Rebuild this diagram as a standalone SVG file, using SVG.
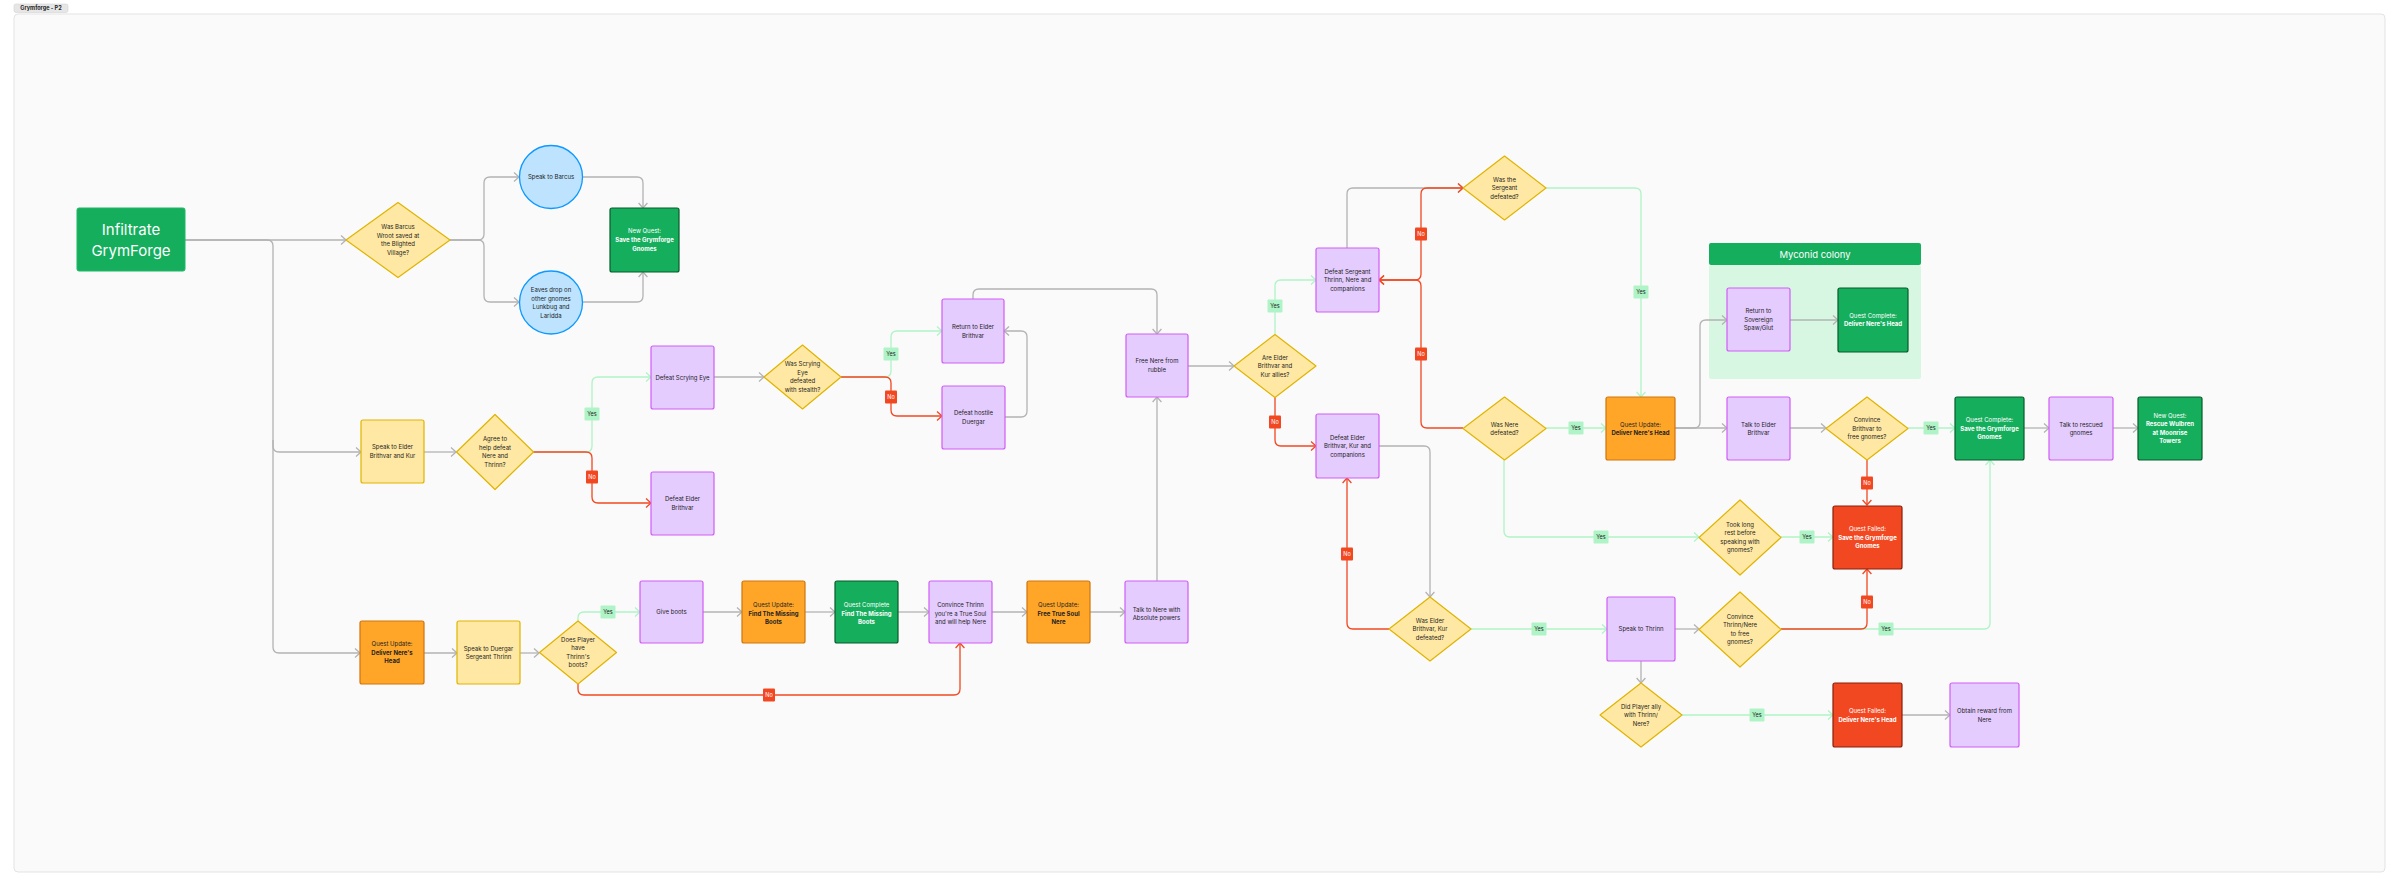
<svg xmlns="http://www.w3.org/2000/svg" width="2400" height="887" viewBox="0 0 2400 887">
<defs>
<style>
text{font-family:Inter,"Liberation Sans",sans-serif;font-size:6px;fill:#1e1e1e;text-anchor:middle}
.w{fill:#ffffff}
.bd{font-weight:700}
.pur{fill:#e4ccff;stroke:#d15cf6;stroke-width:1.2}
.yel{fill:#ffe8a3;stroke:#e0b400;stroke-width:1.2}
.org{fill:#ffa629;stroke:#d0740d;stroke-width:1.2}
.grn{fill:#14ae5c;stroke:#085a2c;stroke-width:1.2}
.red{fill:#f24822;stroke:#8a1e08;stroke-width:1.2}
.blu{fill:#bde3ff;stroke:#0d99ff;stroke-width:1.3}
.dia{fill:#ffe8a3;stroke:#e0b400;stroke-width:1.2;stroke-linejoin:round}
.cg{fill:none;stroke:#b3b3b3;stroke-width:1.3;marker-end:url(#ag)}
.cy{fill:none;stroke:#aff4c6;stroke-width:1.3;marker-end:url(#ay)}
.cr{fill:none;stroke:#f24822;stroke-width:1.3;marker-end:url(#ar)}
.ly{fill:#aff4c6}
.lr{fill:#f24822}
.lt{font-size:5.5px}
</style>
<marker id="ag" viewBox="0 0 7 10" refX="6" refY="5" markerWidth="7" markerHeight="10" markerUnits="userSpaceOnUse" orient="auto-start-reverse"><path d="M1,0.6 L6,5 L1,9.4" fill="none" stroke="#b3b3b3" stroke-width="1.3"/></marker>
<marker id="ay" viewBox="0 0 7 10" refX="6" refY="5" markerWidth="7" markerHeight="10" markerUnits="userSpaceOnUse" orient="auto-start-reverse"><path d="M1,0.6 L6,5 L1,9.4" fill="none" stroke="#aff4c6" stroke-width="1.3"/></marker>
<marker id="ar" viewBox="0 0 7 10" refX="6" refY="5" markerWidth="7" markerHeight="10" markerUnits="userSpaceOnUse" orient="auto-start-reverse"><path d="M1,0.6 L6,5 L1,9.4" fill="none" stroke="#f24822" stroke-width="1.3"/></marker>
</defs>

<g id="frame">
<rect x="14" y="4" width="54" height="8.5" rx="2" fill="#e6e6e6" stroke="#d4d4d4" stroke-width="0.6"/>
<text x="41" y="10.3" class="bd" style="font-size:5.5px">Grymforge - P2</text>
<rect x="14" y="14" width="2371" height="858" rx="4" fill="#fafafa" stroke="#e3e3e3" stroke-width="1"/>
</g>

<g id="myconid-colony">
<rect x="1709" y="265" width="212" height="114" rx="2" fill="#d8f7e2"/>
<rect x="1709" y="243" width="212" height="22" rx="2" fill="#14ae5c"/>
<text x="1815" y="257.5" class="w" style="font-size:9.5px">Myconid colony</text>
</g>

<g id="connectors">
<path class="cg" d="M185,240 H346"/>
<path class="cg" d="M185,240 H267 Q273,240 273,246 V446 Q273,452 279,452 H361"/>
<path class="cg" d="M273,440 V647 Q273,653 279,653 H360"/>
<path class="cg" d="M450,240 H478 Q484,240 484,234 V183 Q484,177 490,177 H519"/>
<path class="cg" d="M450,240 H478 Q484,240 484,246 V296 Q484,302 490,302 H519"/>
<path class="cg" d="M583,177 H637 Q643,177 643,183 V208"/>
<path class="cg" d="M583,302 H637 Q643,302 643,296 V272"/>
<path class="cg" d="M424,452 H456"/>
<path class="cy" d="M533,452 H586 Q592,452 592,446 V383 Q592,377 598,377 H651"/>
<path class="cr" d="M533,452 H586 Q592,452 592,458 V497 Q592,503 598,503 H651"/>
<path class="cg" d="M714,377 H764"/>
<path class="cy" d="M841,377 H885 Q891,377 891,371 V337 Q891,331 897,331 H942"/>
<path class="cr" d="M841,377 H885 Q891,377 891,383 V410 Q891,416 897,416 H942"/>
<path class="cg" d="M1005,417 H1021 Q1027,417 1027,411 V337 Q1027,331 1021,331 H1004"/>
<path class="cg" d="M973,299 V295 Q973,289 979,289 H1151 Q1157,289 1157,295 V334"/>
<path class="cg" d="M1188,366 H1234"/>
<path class="cy" d="M1275,334 V286 Q1275,280 1281,280 H1316"/>
<path class="cr" d="M1275,397 V440 Q1275,446 1281,446 H1316"/>
<path class="cg" d="M1347,248 V194 Q1347,188 1353,188 H1463"/>
<path class="cr" d="M1463,428 H1427 Q1421,428 1421,422 V286 Q1421,280 1415,280 H1379"/>
<path class="cr" style="marker-start:url(#ar)" d="M1463,188 H1427 Q1421,188 1421,194 V274 Q1421,280 1415,280 H1379"/>
<path class="cy" d="M1546,188 H1635 Q1641,188 1641,194 V397"/>
<path class="cy" d="M1546,428 H1606"/>
<path class="cg" d="M1675,428 H1727"/>
<path class="cg" d="M1675,428 H1694 Q1700,428 1700,422 V326 Q1700,320 1706,320 H1727"/>
<path class="cg" d="M1790,320 H1838"/>
<path class="cg" d="M1790,428 H1826"/>
<path class="cy" d="M1908,428 H1955"/>
<path class="cg" d="M2024,428 H2049"/>
<path class="cg" d="M2113,428 H2138"/>
<path class="cr" d="M1867,460 V505"/>
<path class="cg" d="M1379,446 H1424 Q1430,446 1430,452 V597"/>
<path class="cy" d="M1471,629 H1607"/>
<path class="cr" d="M1389,629 H1353 Q1347,629 1347,623 V478"/>
<path class="cg" d="M1675,629 H1699"/>
<path class="cy" d="M1781,629 H1984 Q1990,629 1990,623 V460"/>
<path class="cr" d="M1781,629 H1861 Q1867,629 1867,623 V569"/>
<path class="cy" d="M1504,460 V531 Q1504,537 1510,537 H1699"/>
<path class="cy" d="M1781,537 H1833"/>
<path class="cg" d="M1641,661 V683"/>
<path class="cy" d="M1682,715 H1833"/>
<path class="cg" d="M1902,715 H1950"/>
<path class="cg" d="M424,653 H457"/>
<path class="cg" d="M520,653 H539"/>
<path class="cy" d="M578,621 V618 Q578,612 584,612 H640"/>
<path class="cr" d="M578,684 V689 Q578,695 584,695 H954 Q960,695 960,689 V643"/>
<path class="cg" d="M703,612 H742"/>
<path class="cg" d="M805,612 H835"/>
<path class="cg" d="M898,612 H929"/>
<path class="cg" d="M992,612 H1027"/>
<path class="cg" d="M1090,612 H1125"/>
<path class="cg" d="M1157,581 V397"/>
<g id="labels">
<rect class="ly" x="584.5" y="407.5" width="15" height="13" rx="1"/><text class="lt" x="592" y="416">Yes</text>
<rect class="lr" x="586" y="470.5" width="12" height="13" rx="1"/><text class="lt w" x="592" y="479">No</text>
<rect class="ly" x="883.5" y="347.5" width="15" height="13" rx="1"/><text class="lt" x="891" y="356">Yes</text>
<rect class="lr" x="885" y="390.5" width="12" height="13" rx="1"/><text class="lt w" x="891" y="399">No</text>
<rect class="ly" x="1267.5" y="299.5" width="15" height="13" rx="1"/><text class="lt" x="1275" y="308">Yes</text>
<rect class="lr" x="1269" y="415.5" width="12" height="13" rx="1"/><text class="lt w" x="1275" y="424">No</text>
<rect class="lr" x="1415" y="227.5" width="12" height="13" rx="1"/><text class="lt w" x="1421" y="236">No</text>
<rect class="lr" x="1415" y="347.5" width="12" height="13" rx="1"/><text class="lt w" x="1421" y="356">No</text>
<rect class="ly" x="1633.5" y="285.5" width="15" height="13" rx="1"/><text class="lt" x="1641" y="294">Yes</text>
<rect class="ly" x="1568.5" y="421.5" width="15" height="13" rx="1"/><text class="lt" x="1576" y="430">Yes</text>
<rect class="ly" x="1923.5" y="421.5" width="15" height="13" rx="1"/><text class="lt" x="1931" y="430">Yes</text>
<rect class="lr" x="1861" y="476.5" width="12" height="13" rx="1"/><text class="lt w" x="1867" y="485">No</text>
<rect class="ly" x="1531.5" y="622.5" width="15" height="13" rx="1"/><text class="lt" x="1539" y="631">Yes</text>
<rect class="lr" x="1341" y="547.5" width="12" height="13" rx="1"/><text class="lt w" x="1347" y="556">No</text>
<rect class="ly" x="1878.5" y="622.5" width="15" height="13" rx="1"/><text class="lt" x="1886" y="631">Yes</text>
<rect class="lr" x="1861" y="595.5" width="12" height="13" rx="1"/><text class="lt w" x="1867" y="604">No</text>
<rect class="ly" x="1593.5" y="530.5" width="15" height="13" rx="1"/><text class="lt" x="1601" y="539">Yes</text>
<rect class="ly" x="1799.5" y="530.5" width="15" height="13" rx="1"/><text class="lt" x="1807" y="539">Yes</text>
<rect class="ly" x="1749.5" y="708.5" width="15" height="13" rx="1"/><text class="lt" x="1757" y="717">Yes</text>
<rect class="ly" x="600.5" y="605.5" width="15" height="13" rx="1"/><text class="lt" x="608" y="614">Yes</text>
<rect class="lr" x="763" y="688.5" width="12" height="13" rx="1"/><text class="lt w" x="769" y="697">No</text>
</g>
</g>

<g id="infiltrate">
<rect x="77" y="208" width="108" height="63" rx="2" fill="#14ae5c" stroke="#1fb866" stroke-width="1"/>
<text class="w" style="font-size:15px" x="131" y="235">Infiltrate</text>
<text class="w" style="font-size:15px" x="131" y="256">GrymForge</text>
</g>
<g id="q-barcus">
<polygon class="dia" points="398,202.5 450,240 398,277.5 346,240"/>
<text x="398" y="229">Was Barcus</text><text x="398" y="238">Wroot saved at</text><text x="398" y="246">the Blighted</text><text x="398" y="255">Village?</text>
</g>
<g id="speak-barcus">
<circle class="blu" cx="551" cy="177" r="31.5"/>
<text x="551" y="179">Speak to Barcus</text>
</g>
<g id="eaves-drop">
<circle class="blu" cx="551" cy="302.5" r="31.5"/>
<text x="551" y="292">Eaves drop on</text><text x="551" y="300.5">other gnomes</text><text x="551" y="309">Lunkbug and</text><text x="551" y="317.5">Laridda</text>
</g>
<g id="new-quest-save">
<rect class="grn" x="610" y="208" width="69" height="64" rx="2"/>
<text class="w" x="644.5" y="233">New Quest:</text><text class="w bd" x="644.5" y="242">Save the Grymforge</text><text class="w bd" x="644.5" y="250.5">Gnomes</text>
</g>
<g id="speak-elder">
<rect class="yel" x="361" y="420" width="63" height="63" rx="2"/>
<text x="392.5" y="449">Speak to Elder</text><text x="392.5" y="458">Brithvar and Kur</text>
</g>
<g id="q-agree">
<polygon class="dia" points="495,414.5 533.5,452 495,489.5 456.5,452"/>
<text x="495" y="441">Agree to</text><text x="495" y="450">help defeat</text><text x="495" y="458">Nere and</text><text x="495" y="467">Thrinn?</text>
</g>
<g id="defeat-scrying">
<rect class="pur" x="651" y="346" width="63" height="63" rx="2"/>
<text x="682.5" y="379.5">Defeat Scrying Eye</text>
</g>
<g id="defeat-elder-brithvar">
<rect class="pur" x="651" y="472" width="63" height="63" rx="2"/>
<text x="682.5" y="501">Defeat Elder</text><text x="682.5" y="510">Brithvar</text>
</g>
<g id="q-scrying">
<polygon class="dia" points="802.5,345 841,377 802.5,409 764,377"/>
<text x="802.5" y="366">Was Scrying</text><text x="802.5" y="375">Eye</text><text x="802.5" y="383">defeated</text><text x="802.5" y="392">with stealth?</text>
</g>
<g id="return-elder">
<rect class="pur" x="942" y="299" width="62" height="64" rx="2"/>
<text x="973" y="329">Return to Elder</text><text x="973" y="337.5">Brithvar</text>
</g>
<g id="defeat-duergar">
<rect class="pur" x="942" y="386" width="63" height="63" rx="2"/>
<text x="973.5" y="415">Defeat hostile</text><text x="973.5" y="424">Duergar</text>
</g>
<g id="free-nere">
<rect class="pur" x="1126" y="334" width="62" height="63" rx="2"/>
<text x="1157" y="363">Free Nere from</text><text x="1157" y="372">rubble</text>
</g>
<g id="q-allies">
<polygon class="dia" points="1275,334.5 1316,366 1275,397.5 1234,366"/>
<text x="1275" y="359.5">Are Elder</text><text x="1275" y="368">Brithvar and</text><text x="1275" y="376.5">Kur allies?</text>
</g>
<g id="defeat-sergeant">
<rect class="pur" x="1316" y="248" width="63" height="64" rx="2"/>
<text x="1347.5" y="273.5">Defeat Sergeant</text><text x="1347.5" y="282">Thrinn, Nere and</text><text x="1347.5" y="290.5">companions</text>
</g>
<g id="defeat-elder-kur">
<rect class="pur" x="1316" y="414" width="63" height="64" rx="2"/>
<text x="1347.5" y="439.5">Defeat Elder</text><text x="1347.5" y="448">Brithvar, Kur and</text><text x="1347.5" y="456.5">companions</text>
</g>
<g id="q-sergeant">
<polygon class="dia" points="1504.5,156 1546,188 1504.5,220 1463,188"/>
<text x="1504.5" y="181.5">Was the</text><text x="1504.5" y="190">Sergeant</text><text x="1504.5" y="198.5">defeated?</text>
</g>
<g id="q-nere">
<polygon class="dia" points="1504.5,397 1546,428.5 1504.5,460 1463,428.5"/>
<text x="1504.5" y="426.5">Was Nere</text><text x="1504.5" y="435">defeated?</text>
</g>
<g id="qu-deliver">
<rect class="org" x="1606" y="397" width="69" height="63" rx="2"/>
<text x="1640.5" y="426.5">Quest Update:</text><text class="bd" x="1640.5" y="435">Deliver Nere's Head</text>
</g>
<g id="return-sovereign">
<rect class="pur" x="1727" y="288" width="63" height="63" rx="2"/>
<text x="1758.5" y="313">Return to</text><text x="1758.5" y="321.5">Sovereign</text><text x="1758.5" y="330">Spaw/Glut</text>
</g>
<g id="qc-deliver">
<rect class="grn" x="1838" y="288" width="70" height="64" rx="2"/>
<text class="w" x="1873" y="317.5">Quest Complete:</text><text class="w bd" x="1873" y="326">Deliver Nere's Head</text>
</g>
<g id="talk-elder">
<rect class="pur" x="1727" y="397" width="63" height="63" rx="2"/>
<text x="1758.5" y="426.5">Talk to Elder</text><text x="1758.5" y="435">Brithvar</text>
</g>
<g id="q-convince-brithvar">
<polygon class="dia" points="1867,397 1908,428.5 1867,460 1826,428.5"/>
<text x="1867" y="422">Convince</text><text x="1867" y="430.5">Brithvar to</text><text x="1867" y="439">free gnomes?</text>
</g>
<g id="qc-save">
<rect class="grn" x="1955" y="397" width="69" height="63" rx="2"/>
<text class="w" x="1989.5" y="422">Quest Complete:</text><text class="w bd" x="1989.5" y="430.5">Save the Grymforge</text><text class="w bd" x="1989.5" y="439">Gnomes</text>
</g>
<g id="talk-rescued">
<rect class="pur" x="2049" y="397" width="64" height="63" rx="2"/>
<text x="2081" y="426.5">Talk to rescued</text><text x="2081" y="435">gnomes</text>
</g>
<g id="nq-rescue">
<rect class="grn" x="2138" y="397" width="64" height="63" rx="2"/>
<text class="w" x="2170" y="417.5">New Quest:</text><text class="w bd" x="2170" y="426">Rescue Wulbren</text><text class="w bd" x="2170" y="434.5">at Moonrise</text><text class="w bd" x="2170" y="443">Towers</text>
</g>
<g id="q-elder-kur-defeated">
<polygon class="dia" points="1430,597 1471,629 1430,661 1389,629"/>
<text x="1430" y="622.5">Was Elder</text><text x="1430" y="631">Brithvar, Kur</text><text x="1430" y="639.5">defeated?</text>
</g>
<g id="speak-thrinn">
<rect class="pur" x="1607" y="597" width="68" height="64" rx="2"/>
<text x="1641" y="631">Speak to Thrinn</text>
</g>
<g id="q-convince-thrinn">
<polygon class="dia" points="1740,592 1781,629.5 1740,667 1699,629.5"/>
<text x="1740" y="618.5">Convince</text><text x="1740" y="627">Thrinn/Nere</text><text x="1740" y="635.5">to free</text><text x="1740" y="644">gnomes?</text>
</g>
<g id="q-long-rest">
<polygon class="dia" points="1740,500 1781,537.5 1740,575 1699,537.5"/>
<text x="1740" y="526.5">Took long</text><text x="1740" y="535">rest before</text><text x="1740" y="543.5">speaking with</text><text x="1740" y="552">gnomes?</text>
</g>
<g id="qf-save">
<rect class="red" x="1833" y="506" width="69" height="63" rx="2"/>
<text class="w" x="1867.5" y="531">Quest Failed:</text><text class="w bd" x="1867.5" y="539.5">Save the Grymforge</text><text class="w bd" x="1867.5" y="548">Gnomes</text>
</g>
<g id="q-ally">
<polygon class="dia" points="1641,683 1682,715 1641,747 1600,715"/>
<text x="1641" y="708.5">Did Player ally</text><text x="1641" y="717">with Thrinn/</text><text x="1641" y="725.5">Nere?</text>
</g>
<g id="qf-deliver">
<rect class="red" x="1833" y="683" width="69" height="64" rx="2"/>
<text class="w" x="1867.5" y="713">Quest Failed:</text><text class="w bd" x="1867.5" y="721.5">Deliver Nere's Head</text>
</g>
<g id="obtain-reward">
<rect class="pur" x="1950" y="683" width="69" height="64" rx="2"/>
<text x="1984.5" y="713">Obtain reward from</text><text x="1984.5" y="721.5">Nere</text>
</g>
<g id="qu-deliver-left">
<rect class="org" x="360" y="621" width="64" height="63" rx="2"/>
<text x="392" y="646">Quest Update:</text><text class="bd" x="392" y="654.5">Deliver Nere's</text><text class="bd" x="392" y="663">Head</text>
</g>
<g id="speak-duergar">
<rect class="yel" x="457" y="621" width="63" height="63" rx="2"/>
<text x="488.5" y="650.5">Speak to Duergar</text><text x="488.5" y="659">Sergeant Thrinn</text>
</g>
<g id="q-boots">
<polygon class="dia" points="578,621 616.5,652.5 578,684 539.5,652.5"/>
<text x="578" y="641.5">Does Player</text><text x="578" y="650">have</text><text x="578" y="658.5">Thrinn's</text><text x="578" y="667">boots?</text>
</g>
<g id="give-boots">
<rect class="pur" x="640" y="581" width="63" height="62" rx="2"/>
<text x="671.5" y="614">Give boots</text>
</g>
<g id="qu-find-boots">
<rect class="org" x="742" y="581" width="63" height="62" rx="2"/>
<text x="773.5" y="607">Quest Update:</text><text class="bd" x="773.5" y="615.5">Find The Missing</text><text class="bd" x="773.5" y="624">Boots</text>
</g>
<g id="qc-boots">
<rect class="grn" x="835" y="581" width="63" height="62" rx="2"/>
<text class="w" x="866.5" y="607">Quest Complete</text><text class="w bd" x="866.5" y="615.5">Find The Missing</text><text class="w bd" x="866.5" y="624">Boots</text>
</g>
<g id="convince-true-soul">
<rect class="pur" x="929" y="581" width="63" height="62" rx="2"/>
<text x="960.5" y="607">Convince Thrinn</text><text x="960.5" y="615.5">you're a True Soul</text><text x="960.5" y="624">and will help Nere</text>
</g>
<g id="qu-free-nere">
<rect class="org" x="1027" y="581" width="63" height="62" rx="2"/>
<text x="1058.5" y="607">Quest Update:</text><text class="bd" x="1058.5" y="615.5">Free True Soul</text><text class="bd" x="1058.5" y="624">Nere</text>
</g>
<g id="talk-nere">
<rect class="pur" x="1125" y="581" width="63" height="62" rx="2"/>
<text x="1156.5" y="611.5">Talk to Nere with</text><text x="1156.5" y="620">Absolute powers</text>
</g>
</svg>
